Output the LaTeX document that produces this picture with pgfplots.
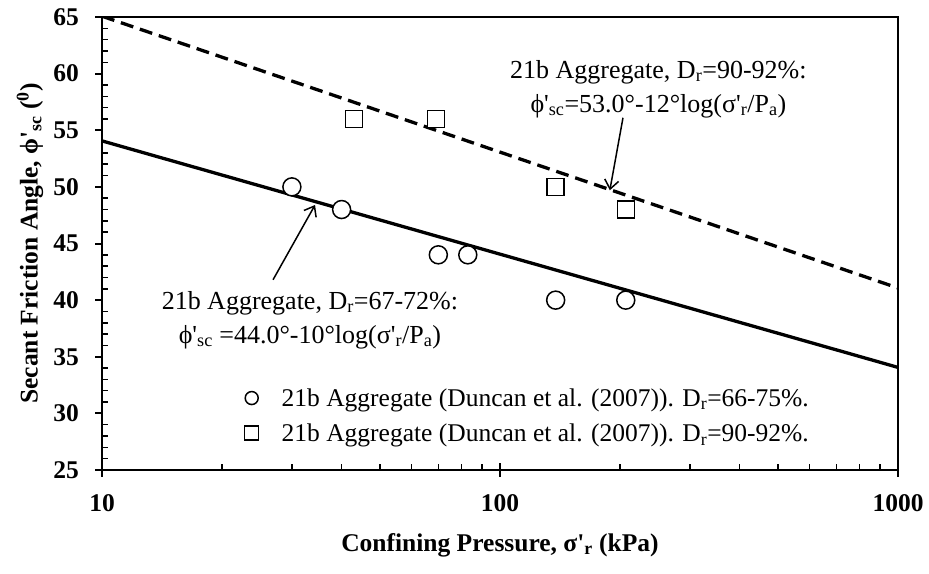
\documentclass[border=0pt]{standalone}
\usepackage{pgfplots}
\pgfplotsset{compat=1.18}
\usepackage{fontspec}
\setmainfont{Liberation Serif}
\usetikzlibrary{arrows.meta}
\newcommand{\ap}{\textquotesingle}
\newcommand{\fs}{\fontsize{25.5}{30}\selectfont}

% Duncan et al. (2007), Dr = 66-75%
\pgfplotstableread{
x y
30 50
40 48
70 44
83 44
138 40
207 40
}\loose
% Duncan et al. (2007), Dr = 90-92%
\pgfplotstableread{
x y
43 56
69 56
138 50
207 48
}\dense

\begin{document}
\begin{tikzpicture}
\begin{axis}[
  at={(0,0)}, anchor=south west,
  scale only axis, width=796pt, height=453pt,
  xmode=log, log basis x=10,
  xmin=10, xmax=1000, ymin=25, ymax=65,
  xtick={10,100,1000}, xticklabels={10,100,1000},
  minor xtick={20,30,40,50,60,70,80,90,200,300,400,500,600,700,800,900},
  ytick={25,30,...,65},
  minor y tick num=4,
  tick pos=left,
  tick align=inside,
  major tick length=-7pt,
  minor tick length=6pt,
  major tick style={line width=2pt, black},
  minor tick style={line width=1.5pt, black},
  axis line style={line width=2pt},
  /pgf/number format/assume math mode=true,
  ticklabel style={font=\fs\bfseries},
  yticklabel style={inner sep=0pt, xshift=-23pt},
  xticklabel style={inner sep=0pt, yshift=-24pt},
  xlabel={Confining Pressure, σ\ap\textsubscript{r} (kPa)},
  ylabel={Secant Friction Angle, ϕ\ap\textsubscript{sc} (\textsuperscript{0})},
  every axis x label/.style={at={(axis description cs:0.5,0)}, yshift=-75pt, anchor=center, font=\fs\bfseries},
  every axis y label/.style={at={(axis description cs:0,0.5)}, xshift=-72pt, anchor=center, rotate=90, font=\fs\bfseries},
  legend style={draw=none, fill=none, font=\fs, at={(rel axis cs:0.174,0.12)}, anchor=west,
    row sep=12pt, column sep=20pt},
  legend cell align=left,
  legend image code/.code={\path[draw=none, fill=none] (-8pt,-8pt) rectangle (8pt,8pt); \draw[#1] plot coordinates {(0pt,0pt)};},
]
\addplot[black, line width=3.3pt, forget plot] coordinates {(10,54.06) (1000,34.06)};
\addplot[black, line width=3.3pt, dash pattern=on 13pt off 7pt, forget plot] coordinates {(10,65.07) (1000,41.07)};
\addplot[only marks, mark=*, mark size=9pt, mark options={fill=white, draw=black, line width=1.5pt}, forget plot] table {\loose};
\addplot[only marks, mark=square*, mark size=8.5pt, mark options={fill=white, draw=black, line width=1.5pt}, forget plot] table {\dense};
\addlegendimage{only marks, mark=*, mark size=6.5pt, mark options={fill=white, draw=black, line width=1.5pt}}
\addlegendentry{21b Aggregate (Duncan et al. (2007)). D\textsubscript{r}=66-75\%.}
\addlegendimage{only marks, mark=square*, mark size=7pt, mark options={fill=white, draw=black, line width=1.5pt}}
\addlegendentry{21b Aggregate (Duncan et al. (2007)). D\textsubscript{r}=90-92\%.}
\draw[line width=2pt] (axis cs:100,25) -- ([yshift=7pt]axis cs:100,25);
\draw[line width=1.5pt, -{Straight Barb[length=9pt,width=14pt]}] (axis cs:26.9,41.8) -- (axis cs:34.3,48.4);
\draw[line width=1.5pt, -{Straight Barb[length=9pt,width=14pt]}] (axis cs:203.7,56.1) -- (axis cs:188.8,49.7);
\node[align=center, font=\fontsize{26}{34}\selectfont] at (axis cs:33.3,38.25)
  {21b Aggregate, D\textsubscript{r}=67-72\%:\\ϕ\ap\textsubscript{sc} =44.0°-10°log(σ\ap\textsubscript{r}/P\textsubscript{a})};
\node[align=center, font=\fontsize{26}{34}\selectfont] at (axis cs:250,58.64)
  {21b Aggregate, D\textsubscript{r}=90-92\%:\\ϕ\ap\textsubscript{sc}=53.0°-12°log(σ\ap\textsubscript{r}/P\textsubscript{a})};
\end{axis}
\pgfresetboundingbox
\path (-102pt,-103pt) rectangle (827pt,470pt);
\end{tikzpicture}
\end{document}
